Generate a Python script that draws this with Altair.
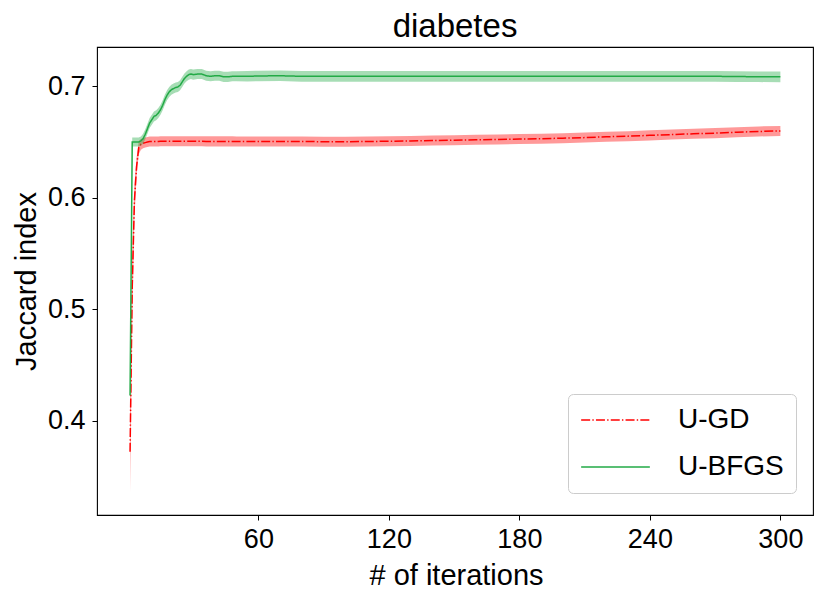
import altair as alt
import pandas as pd

# ---- data ----
iters = [1, 2, 3, 4, 5, 6, 7, 8, 9, 10, 11, 12, 13, 14, 15, 16, 17, 18, 19, 20,
         21, 22, 23, 24, 25, 26, 27, 28, 29, 30, 32, 34, 36, 38, 40, 42, 44, 46, 48, 50,
         55, 60, 70, 80, 90, 100, 110, 120, 130, 140, 150, 160, 170, 180, 190, 200,
         210, 220, 230, 240, 250, 260, 270, 280, 290, 300]

gd_mean = [0.372, 0.520, 0.597, 0.628, 0.645, 0.648, 0.649, 0.6495, 0.650, 0.6505,
           0.6505, 0.6505, 0.6505, 0.6505, 0.6508, 0.6508, 0.6508, 0.6508, 0.6508, 0.6508,
           0.6508, 0.6508, 0.6508, 0.6508, 0.6508, 0.6508, 0.6508, 0.6508, 0.6508, 0.6508,
           0.6508, 0.6508, 0.6506, 0.6506, 0.6506, 0.6506, 0.6506, 0.6506, 0.6506, 0.6505,
           0.6505, 0.6505, 0.6505, 0.6505, 0.6503, 0.6503, 0.6505, 0.6507, 0.651, 0.6513,
           0.6517, 0.652, 0.6523, 0.6527, 0.653, 0.6535, 0.654, 0.6547, 0.6553, 0.656,
           0.6567, 0.6574, 0.658, 0.6588, 0.6595, 0.660]
gd_half = [0.037, 0.030, 0.015, 0.008, 0.006, 0.0048, 0.0046, 0.0045, 0.0045, 0.0045,
           0.0045, 0.0045, 0.0045, 0.0045, 0.0045, 0.0045, 0.0045, 0.0045, 0.0045, 0.0045,
           0.0045, 0.0045, 0.0045, 0.0045, 0.0045, 0.0045, 0.0045, 0.0045, 0.0045, 0.0045,
           0.0045, 0.0045, 0.0045, 0.0045, 0.0045, 0.0045, 0.0045, 0.0045, 0.0045, 0.0045,
           0.0045, 0.0045, 0.0045, 0.0045, 0.0045, 0.0045, 0.0045, 0.0045, 0.0045, 0.0045,
           0.0045, 0.0045, 0.0045, 0.0045, 0.0045, 0.0045, 0.0045, 0.0045, 0.0045, 0.0045,
           0.0045, 0.0045, 0.0045, 0.0045, 0.0045, 0.0045]

bfgs_mean = [0.4225, 0.650, 0.650, 0.650, 0.650, 0.651, 0.653, 0.657, 0.662, 0.667,
             0.670, 0.673, 0.674, 0.676, 0.679, 0.683, 0.688, 0.692, 0.695, 0.697,
             0.698, 0.699, 0.6995, 0.701, 0.704, 0.707, 0.709, 0.7105, 0.711, 0.7105,
             0.711, 0.711, 0.7095, 0.709, 0.7095, 0.7095, 0.7085, 0.7085, 0.709, 0.709,
             0.709, 0.7093, 0.7095, 0.709, 0.709, 0.709, 0.709, 0.709, 0.709, 0.709,
             0.709, 0.709, 0.709, 0.709, 0.709, 0.709, 0.709, 0.709, 0.709, 0.709,
             0.709, 0.709, 0.709, 0.7088, 0.7086, 0.7085]
bfgs_half = [0.003, 0.004, 0.004, 0.004, 0.004, 0.004, 0.0045, 0.0045, 0.0045, 0.0045,
             0.0045, 0.0045, 0.0045, 0.0045, 0.0045, 0.0045, 0.0045, 0.0045, 0.0045, 0.0045,
             0.0045, 0.0045, 0.0045, 0.0045, 0.0045, 0.0045, 0.0045, 0.0045, 0.0045, 0.0045,
             0.0045, 0.0045, 0.0045, 0.0045, 0.0045, 0.0045, 0.0045, 0.0045, 0.0045, 0.0045,
             0.0047, 0.0047, 0.0048, 0.0048, 0.0048, 0.0048, 0.0048, 0.0048, 0.0048, 0.0048,
             0.0048, 0.0048, 0.0048, 0.0048, 0.0048, 0.0048, 0.0048, 0.0048, 0.0048, 0.0048,
             0.0048, 0.0048, 0.0048, 0.0048, 0.0048, 0.0048]

methods = ["U-GD", "U-BFGS"]
colors = ["#ff0000", "#22aa46"]
dashes = [[9, 2.2, 1.4, 2.2], [1, 0]]
x_ticks = [60, 120, 180, 240, 300]
y_ticks = [0.4, 0.5, 0.6, 0.7]

df_gd = pd.DataFrame({
    "iter": iters, "mean": gd_mean,
    "lo": [m - h for m, h in zip(gd_mean, gd_half)],
    "hi": [m + h for m, h in zip(gd_mean, gd_half)],
    "method": "U-GD",
})
df_bfgs = pd.DataFrame({
    "iter": iters, "mean": bfgs_mean,
    "lo": [m - h for m, h in zip(bfgs_mean, bfgs_half)],
    "hi": [m + h for m, h in zip(bfgs_mean, bfgs_half)],
    "method": "U-BFGS",
})

FONT = "Liberation Sans"

xenc = alt.X("iter:Q",
             scale=alt.Scale(domain=[-14.2, 315], nice=False, zero=False),
             axis=alt.Axis(values=x_ticks, title="# of iterations", grid=False, domain=False,
                           tickSize=5, tickColor="black", labelFontSize=27, labelPadding=6.5,
                           labelColor="black", titleFontSize=29, titleFontWeight="normal",
                           titleColor="black", titleX=359, titleY=69,
                           titleBaseline="alphabetic", labelFont=FONT, titleFont=FONT))
yscale = alt.Scale(domain=[0.3153, 0.7353], nice=False, zero=False)
yaxis = alt.Axis(values=y_ticks, format=".1f", title="Jaccard index", grid=False, domain=False,
                 tickSize=5, tickColor="black", labelFontSize=27, labelPadding=7,
                 labelColor="black", titleFontSize=29, titleFontWeight="normal",
                 titleColor="black", titleAngle=270, titleX=-62, titleY=234,
                 titleBaseline="alphabetic", labelFont=FONT, titleFont=FONT)

color_scale = alt.Scale(domain=methods, range=colors)
dash_scale = alt.Scale(domain=methods, range=dashes)
legend = alt.Legend(title=None, orient="none", legendX=471, legendY=347,
                    symbolType="stroke", symbolSize=4720, symbolStrokeWidth=1.6,
                    labelFontSize=28, labelFont=FONT, labelColor="black", labelOffset=27,
                    clipHeight=28, rowPadding=19, padding=12, fillColor="white",
                    strokeColor="#cccccc", cornerRadius=5)


def band(df, col):
    return alt.Chart(df).mark_area(color=col, fillOpacity=0.4, strokeWidth=0).encode(
        x=xenc, y=alt.Y("lo:Q", scale=yscale, axis=yaxis), y2="hi:Q")


def line(df):
    return alt.Chart(df).mark_line(strokeWidth=1.5).encode(
        x=xenc, y=alt.Y("mean:Q", scale=yscale, axis=yaxis),
        color=alt.Color("method:N", scale=color_scale, legend=legend),
        strokeDash=alt.StrokeDash("method:N", scale=dash_scale, legend=legend))


chart = alt.layer(
    band(df_gd, colors[0]), line(df_gd),
    band(df_bfgs, colors[1]), line(df_bfgs),
).properties(
    width=716, height=468,
    title=alt.TitleParams("diabetes", fontSize=33, font=FONT, fontWeight="normal",
                          color="black", anchor="middle", offset=3),
    autosize=alt.AutoSizeParams(type="none"),
    padding={"left": 89, "top": 39, "right": 8, "bottom": 80},
    background="white",
).configure_view(stroke="black", strokeWidth=1.1)

chart.save("out.html", embed_options={"renderer": "svg", "actions": False})
